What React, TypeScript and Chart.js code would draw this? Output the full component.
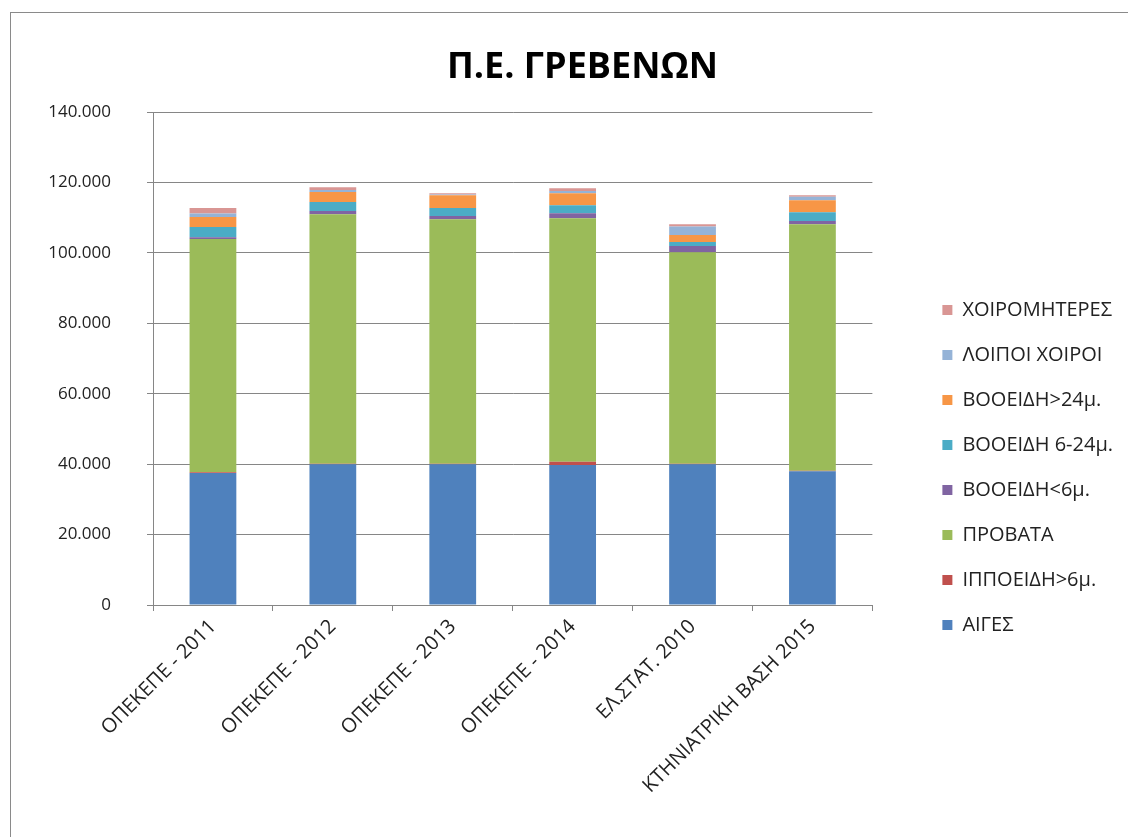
import React, { useEffect, useRef } from 'react';
import { Chart, registerables } from 'chart.js';

Chart.register(...registerables);

const categories = [
  'ΟΠΕΚΕΠΕ - 2011',
  'ΟΠΕΚΕΠΕ - 2012',
  'ΟΠΕΚΕΠΕ - 2013',
  'ΟΠΕΚΕΠΕ - 2014',
  'ΕΛ.ΣΤΑΤ. 2010',
  'ΚΤΗΝΙΑΤΡΙΚΗ ΒΑΣΗ 2015',
];
const aiges = [37500, 40000, 40000, 39800, 40000, 38000];
const ippoeidi = [200, 150, 150, 900, 150, 150];
const provata = [66300, 70850, 69450, 69200, 60050, 70050];
const vooeidiUnder6 = [500, 900, 900, 1400, 1800, 900];
const vooeidi6to24 = [2900, 2600, 2300, 2300, 1100, 2500];
const vooeidiOver24 = [2800, 2800, 3600, 3400, 2000, 3400];
const loipoiXoiroi = [1000, 600, 200, 600, 2400, 1000];
const xoiromiteres = [1600, 800, 400, 800, 700, 400];

const seriesNames = [
  'ΑΙΓΕΣ',
  'ΙΠΠΟΕΙΔΗ>6μ.',
  'ΠΡΟΒΑΤΑ',
  'ΒΟΟΕΙΔΗ<6μ.',
  'ΒΟΟΕΙΔΗ 6-24μ.',
  'ΒΟΟΕΙΔΗ>24μ.',
  'ΛΟΙΠΟΙ ΧΟΙΡΟΙ',
  'ΧΟΙΡΟΜΗΤΕΡΕΣ',
];
const seriesColors = ['#4F81BD', '#C0504D', '#9BBB59', '#8064A2', '#4BACC6', '#F79646', '#95B3D7', '#D99694'];
const yMin = 0;
const yMax = 140000;
const yStep = 20000;
const titleText = 'Π.Ε. ΓΡΕΒΕΝΩΝ';

const fmt = (v: number) => String(v).replace(/\B(?=(\d{3})+(?!\d))/g, '.');

export default function App() {
  const ref = useRef<HTMLCanvasElement | null>(null);
  useEffect(() => {
    if (!ref.current) return;
    const values = [aiges, ippoeidi, provata, vooeidiUnder6, vooeidi6to24, vooeidiOver24, loipoiXoiroi, xoiromiteres];
    const chart = new Chart(ref.current, {
      type: 'bar',
      data: {
        labels: categories,
        datasets: values.map((d, i) => ({
          label: seriesNames[i],
          data: d,
          backgroundColor: seriesColors[i],
          borderWidth: 0,
          barPercentage: 0.39,
          categoryPercentage: 1,
          yAxisID: 'y',
        })),
      },
      options: {
        responsive: false,
        animation: false,
        layout: { padding: { left: 42, right: 5, top: 0, bottom: 0 } },
        plugins: {
          tooltip: { enabled: false },
          title: {
            display: true,
            text: titleText,
            color: '#000',
            font: { family: 'Open Sans', size: 36, weight: 'bold', lineHeight: 1.2 },
            padding: { top: 46, bottom: 23 },
          },
          legend: {
            position: 'right',
            reverse: true,
            align: 'center',
            maxWidth: 320,
            title: { display: true, text: ' ', font: { size: 10, lineHeight: 1.2 }, padding: { top: 86, bottom: 0 } },
            labels: {
              boxWidth: 10,
              boxHeight: 10,
              padding: 25,
              color: '#222',
              font: { family: 'Open Sans', size: 20 },
            },
          },
        },
        scales: {
          x: {
            stacked: true,
            grid: { display: true, drawOnChartArea: false, drawTicks: true, tickLength: 6, color: '#868686', offset: true },
            border: { display: true, color: '#868686' },
            ticks: {
              autoSkip: false,
              maxRotation: 45,
              minRotation: 45,
              padding: 4,
              color: '#222',
              font: { family: 'Open Sans', size: 20 },
            },
            afterFit: (s: any) => { s.height = 232; },
          },
          y: {
            stacked: true,
            min: yMin,
            max: yMax,
            grid: { color: '#868686', tickLength: 6, drawTicks: true },
            border: { display: true, color: '#868686' },
            ticks: {
              stepSize: yStep,
              padding: 36,
              color: '#222',
              font: { family: 'Open Sans', size: 17 },
              callback: (v: any) => fmt(Number(v)),
            },
            afterFit: (s: any) => { s.width = 111; },
          },
          yR: {
            type: 'linear',
            position: 'right',
            display: true,
            grid: { display: false, drawTicks: false },
            border: { display: false },
            ticks: { display: false },
            afterFit: (s: any) => { s.width = 45; },
          },
        },
      },
    } as any);
    return () => chart.destroy();
  }, []);
  return (
    <div style={{ position: 'absolute', left: 0, top: 0, width: 1128, height: 837, background: '#fff', overflow: 'hidden' }}>
      <div style={{ position: 'absolute', left: 10, top: 12, width: 1130, height: 840, borderLeft: '1px solid #8a8a8a', borderTop: '1px solid #8a8a8a' }} />
      <canvas ref={ref} width={1128} height={837} style={{ position: 'absolute', left: 0, top: 0 }} />
    </div>
  );
}
